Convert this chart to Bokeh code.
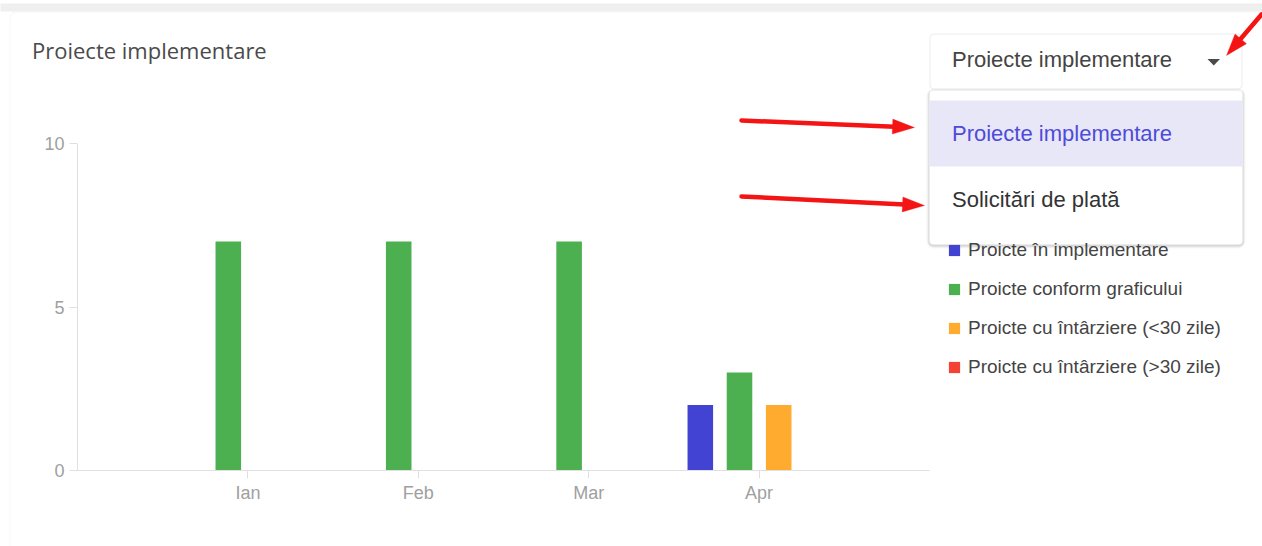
import math
from bokeh.plotting import figure
from bokeh.models import (Range1d, FixedTicker, Legend, LegendItem, Label,
                          BoxAnnotation, PolyAnnotation, Arrow, ColumnDataSource)
from bokeh.transform import dodge
from bokeh.embed import file_html
from bokeh.resources import INLINE

# ---------------- data ----------------
months = ["Ian", "Feb", "Mar", "Apr"]
in_implementare = [0, 0, 0, 2]
conform_graficului = [7, 7, 7, 3]
intarziere_sub_30 = [0, 0, 0, 2]
intarziere_peste_30 = [0, 0, 0, 0]
series_labels = ["Proicte în implementare", "Proicte conform graficului",
                 "Proicte cu întârziere (<30 zile)", "Proicte cu întârziere (>30 zile)"]
y_ticks = [0, 5, 10]
y_max = 10
chart_title = "Proiecte implementare"
dropdown_selected = "Proiecte implementare"
menu_options = ["Proiecte implementare", "Solicitări de plată"]

month_pos = list(range(1, len(months) + 1))
x_max = len(months) + 1

# ---------------- layout / style ----------------
colors = ["#4343d3", "#4caf50", "#ffab2f", "#f44336"]
offsets = [-0.345, -0.115, 0.115, 0.345]
W, H = 1262, 546
FL, FR, FT, FB = 77, 929, 143, 470  # chart area edges in page pixels
PXU = (FR - FL) / x_max
PYU = (FB - FT) / y_max


def dx(px):
    return (px - FL) / PXU


def dy(py):
    return (FB - py) / PYU


p = figure(width=W, height=H,
           x_range=Range1d(dx(0), dx(W)),
           y_range=Range1d(dy(H), dy(0)),
           output_backend="svg", toolbar_location=None,
           min_border_left=0, min_border_right=0, min_border_top=0, min_border_bottom=0)
p.title.visible = False
p.outline_line_color = None
p.background_fill_color = "white"
p.border_fill_color = "white"
p.xgrid.visible = False
p.ygrid.visible = False

# page-pixel coordinate system for the UI decorations
p.extra_x_ranges = {"px": Range1d(0, W)}
p.extra_y_ranges = {"py": Range1d(H, 0)}
PX = dict(x_range_name="px", y_range_name="py")
TY = -8  # baseline correction for labels

# background band and card
p.add_layout(BoxAnnotation(left=-20, right=1400, top=3, bottom=11, fill_color="#efefef",
                           fill_alpha=1, line_color=None, level="underlay", **PX))
p.add_layout(BoxAnnotation(left=9.5, right=1400, top=11.5, bottom=800, fill_color="white",
                           fill_alpha=1, line_color="#e0e0e0", line_width=1, border_radius=6,
                           level="underlay", **PX))
p.add_layout(Label(x=31.5, y=57.3 + TY, text=chart_title, text_font="Open Sans",
                   text_font_size="22px", text_color="#4a4a4a", text_baseline="alphabetic",
                   level="underlay", **PX))

# ---------------- bars ----------------
src = ColumnDataSource(dict(pos=month_pos, s0=in_implementare, s1=conform_graficului,
                            s2=intarziere_sub_30, s3=intarziere_peste_30))
renderers = []
for i, key in enumerate(["s0", "s1", "s2", "s3"]):
    r = p.vbar(x=dodge("pos", offsets[i]), top=key, width=0.15,
               source=src, fill_color=colors[i], line_color=None)
    renderers.append(r)

# ---------------- axes ----------------
p.yaxis.ticker = FixedTicker(ticks=y_ticks)
p.xaxis.ticker = FixedTicker(ticks=month_pos)
p.xaxis.major_label_overrides = {pos: m for pos, m in zip(month_pos, months)}
p.yaxis.fixed_location = 0
p.xaxis.fixed_location = 0
p.yaxis.bounds = (0, y_max)
p.xaxis.bounds = (0, x_max)
for ax in (p.xaxis[0], p.yaxis[0]):
    ax.axis_line_color = "#e0e0e0"
    ax.major_tick_line_color = "#e0e0e0"
    ax.major_tick_out = 8
    ax.major_tick_in = 0
    ax.minor_tick_out = 0
    ax.minor_tick_in = 0
    ax.major_label_text_color = "#a0a0a0"
    ax.major_label_text_font = "Liberation Sans"
    ax.major_label_text_font_size = "18px"
p.yaxis.major_label_standoff = 5
p.xaxis.major_label_standoff = 4

# ---------------- legend ----------------
legend = Legend(items=[LegendItem(label=series_labels[i], renderers=[renderers[i]]) for i in range(4)],
                location=(947, 168), orientation="vertical", glyph_width=14, glyph_height=14,
                label_standoff=7, spacing=17, padding=0, margin=0, label_height=20,
                border_line_color=None, background_fill_alpha=0,
                label_text_font="Liberation Sans", label_text_font_size="19px",
                label_text_color="#444444")
p.add_layout(legend)

# ---------------- dropdown ----------------
p.add_layout(BoxAnnotation(left=929.5, right=1241.5, top=33.5, bottom=88.5, fill_color="white",
                           fill_alpha=1, line_color="#c2c2c2", line_width=1, border_radius=4,
                           level="overlay", **PX))
p.add_layout(Label(x=951.5, y=66.7 + TY, text=dropdown_selected, text_font="Liberation Sans",
                   text_font_size="22px", text_color="#444444", text_baseline="alphabetic",
                   level="overlay", **PX))
p.add_layout(PolyAnnotation(xs=[dx(1207), dx(1219.5), dx(1213.25)],
                            ys=[dy(58.5), dy(58.5), dy(65)], fill_color="#4a4a4a",
                            fill_alpha=1, line_color=None, level="overlay"))

# menu shadow
for d, a in [(3, 0.03), (2, 0.05), (1, 0.07)]:
    p.add_layout(BoxAnnotation(left=929 - d, right=1242 + d, top=90 - d + 1, bottom=244 + d + 1,
                               fill_color="black", fill_alpha=a, line_color=None,
                               border_radius=4 + d, level="overlay", **PX))
p.add_layout(BoxAnnotation(left=929, right=1242, top=90, bottom=244, fill_color="white",
                           fill_alpha=1, line_color=None, border_radius=4, level="overlay", **PX))
p.add_layout(BoxAnnotation(left=929, right=1242, top=100, bottom=166, fill_color="#e8e7f8",
                           fill_alpha=1, line_color=None, level="overlay", **PX))
p.add_layout(Label(x=951.5, y=140.5 + TY, text=menu_options[0], text_font="Liberation Sans",
                   text_font_size="22px", text_color="#4e4bd8", text_baseline="alphabetic",
                   level="overlay", **PX))
p.add_layout(Label(x=951.5, y=206.7 + TY, text=menu_options[1], text_font="Liberation Sans",
                   text_font_size="22px", text_color="#333333", text_baseline="alphabetic",
                   level="overlay", **PX))

# ---------------- red arrows ----------------
RED = "#f41414"


def red_arrow(x0, y0, x1, y1, head_len=22, head_half=7.5):
    ddx, ddy = x1 - x0, y1 - y0
    L = math.hypot(ddx, ddy)
    ux, uy = ddx / L, ddy / L
    bx, by = x1 - ux * head_len, y1 - uy * head_len
    p.add_layout(Arrow(x_start=x0, y_start=y0, x_end=bx + ux * 2, y_end=by + uy * 2, end=None,
                       line_color=RED, line_width=4.5, line_cap="round", level="overlay", **PX))
    nx, ny = -uy, ux
    hx = [x1, bx + nx * head_half, bx - nx * head_half]
    hy = [y1, by + ny * head_half, by - ny * head_half]
    p.add_layout(PolyAnnotation(xs=[dx(v) for v in hx], ys=[dy(v) for v in hy],
                                fill_color=RED, fill_alpha=1, line_color=RED, line_width=1,
                                level="overlay"))


red_arrow(741, 120, 914, 127)
red_arrow(741, 196, 924, 205)
red_arrow(1261, 14, 1226, 55)

open("out.html", "w").write(file_html(p, INLINE))
